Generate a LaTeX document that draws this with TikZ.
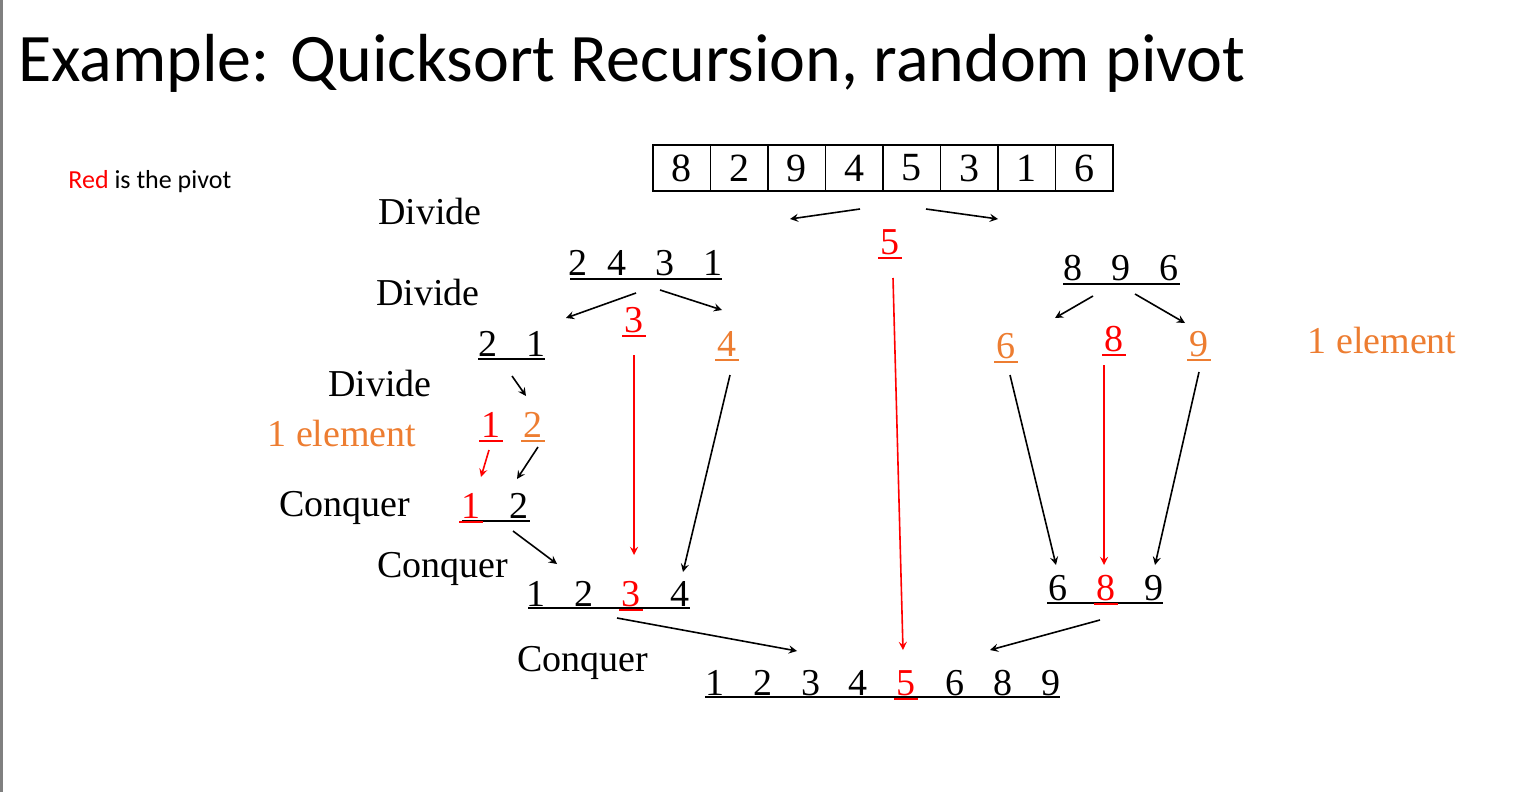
\documentclass[tikz,border=0pt]{standalone}
\usepackage{fontspec}
\setmainfont{Liberation Serif}
\newfontfamily\slidefont{Carlito}
\definecolor{pivred}{RGB}{255,0,0}
\definecolor{oneorange}{RGB}{237,125,49}
\begin{document}
\begin{tikzpicture}[
    x=0.5pt, y=-0.5pt,
    >=stealth,
    % Styles
    word/.style={inner sep=0pt, font=\fontsize{19}{21}\selectfont},
    dig/.style={inner sep=0pt, font=\fontsize{19}{21}\selectfont},
    piv/.style={dig, text=pivred},
    one/.style={dig, text=oneorange},
    cell/.style={draw, thick, minimum width=28.75pt, minimum height=23pt, inner sep=0pt, font=\fontsize{20}{22}\selectfont},
    arrow/.style={->, thick},
    redarrow/.style={->, thick, pivred},
    uline/.style={thick}
]
\useasboundingbox (0,0) rectangle (1536,792);
\draw[gray, line width=1.5pt] (1,0) -- (1,792);

% --- Titel ---
\node[anchor=base west, inner sep=0pt, font=\slidefont\fontsize{34}{36}\selectfont] (title) at (18,82) {Example: Quicksort Recursion, random pivot};
\node[anchor=west, inner sep=0pt, font=\slidefont\fontsize{13}{15}\selectfont] (legend) at (68,182) {\textcolor{pivred}{Red} is the pivot};

% --- Array oben ---
\foreach \v [count=\i] in {8,2,9,4,5,3,1,6}
    \node[cell] (a\i) at (653+57.5*\i-28.75,168) {\v};

% --- Beschriftungen ---
\node[word] (div1) at (430,212) {Divide};
\node[word] (div2) at (428,293) {Divide};
\node[word] (div3) at (380,383) {Divide};
\node[word, text=oneorange] (oneL) at (342,433) {1 element};
\node[word, text=oneorange] (oneR) at (1382,340) {1 element};
\node[word] (con1) at (345,508) {Conquer};
\node[word] (con2) at (443,569) {Conquer};
\node[word] (con3) at (583,663) {Conquer};

% --- Zahlen (einzeln) ---
\foreach \n/\v/\x/\y/\s in {
    p5/5/890/242/piv, l2/2/578/263/dig, l4/4/617/263/dig, l3/3/665/263/dig, l1/1/713/263/dig,
    r8/8/1073/268/dig, r9/9/1121/268/dig, r6/6/1169/268/dig,
    p3/3/634/320/piv, o4/4/727/344/one, o6/6/1006/346/one, p8/8/1114/339/piv, o9/9/1199/344/one,
    m2/2/488/344/dig, m1/1/536/344/dig,
    p1/1/491/425/piv, o2/2/533/425/one,
    c1/1/471/506/piv, c2/2/519/506/dig,
    d1/1/536/594/dig, d2/2/584/594/dig, d3/3/631/594/piv, d4/4/680/594/dig,
    e6/6/1058/588/dig, e8/8/1106/588/piv, e9/9/1154/588/dig,
    f1/1/715/683/dig, f2/2/763/683/dig, f3/3/811/683/dig, f4/4/858/683/dig,
    f5/5/906/683/piv, f6/6/955/683/dig, f8/8/1003/683/dig, f9/9/1051/683/dig}
    \node[\s] (\n) at (\x,\y) {\v};

% --- Unterstreichungen ---
\draw[uline] (570,279) -- (722,279);
\draw[uline] (1063,284) -- (1180,284);
\draw[uline] (478,359) -- (545,359);
\draw[uline] (462,521) -- (530,521);
\draw[uline] (528,608) -- (690,608);
\draw[uline] (1047,603) -- (1163,603);
\draw[uline] (705,697) -- (1060,697);
\foreach \n in {p5,p3,p8,p1,c1,d3,e8,f5}
    \draw[uline, draw=pivred] ([xshift=-1pt,yshift=-1.5pt]\n.south west) -- ([xshift=1pt,yshift=-1.5pt]\n.south east);
\foreach \n in {o4,o6,o9,o2}
    \draw[uline, draw=oneorange] ([xshift=-1pt,yshift=-1.5pt]\n.south west) -- ([xshift=1pt,yshift=-1.5pt]\n.south east);

% --- Pfeilenden ---
\foreach \n/\x/\y in {s1/860/209, t1/790/219, s2/926/209, t2/998/219,
    s3/636/293, t3/566/318, s4/660/290, t4/722/310,
    s5/1093/296, t5/1055/318, s6/1135/294, t6/1185/323,
    s7/512/376, t7/526/396, s8/489/450, t8/481/477,
    s9/538/447, t9/517/479, s10/513/531, t10/557/564,
    s11/634/355, t11/634/555, s12/893/278, t12/903/650,
    s13/1104/365, t13/1104/565, s14/730/375, t14/683/572,
    s15/1010/375, t15/1056/565, s16/1199/372, t16/1155/565,
    s17/617/618, t17/797/651, s18/1100/620, t18/990/650}
    \coordinate (\n) at (\x,\y);

% --- Pfeile ---
\foreach \i in {1,2,3,4,5,6,7,9,10,14,15,16,17,18}
    \draw[arrow] (s\i) -- (t\i);
\foreach \i in {8,11,12,13}
    \draw[redarrow] (s\i) -- (t\i);
\end{tikzpicture}
\end{document}
